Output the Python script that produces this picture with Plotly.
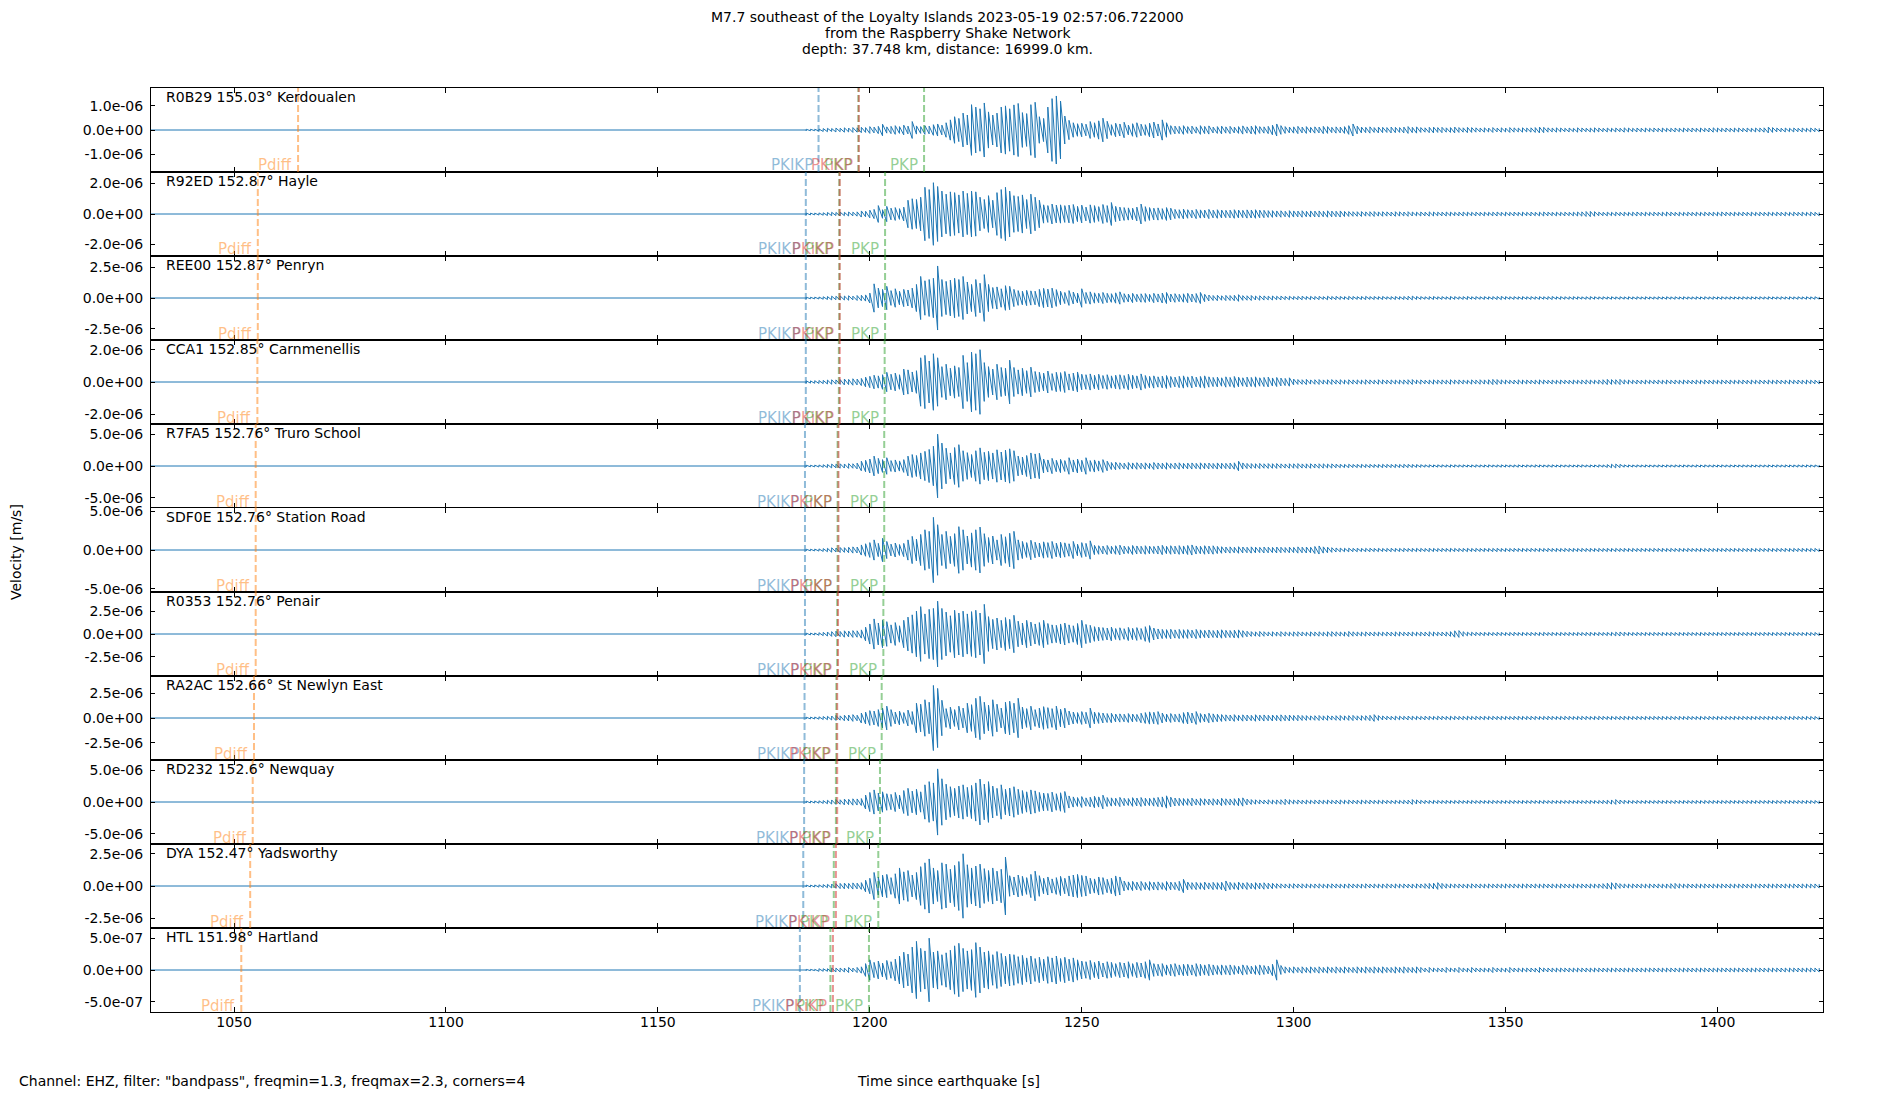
import plotly.graph_objects as go
from plotly.subplots import make_subplots

TITLE_LINES = [
    "M7.7 southeast of the Loyalty Islands 2023-05-19 02:57:06.722000",
    "from the Raspberry Shake Network",
    "depth: 37.748 km, distance: 16999.0 km.",
]
FOOTER = 'Channel: EHZ, filter: "bandpass", freqmin=1.3, freqmax=2.3, corners=4'
X_TITLE = "Time since earthquake [s]"
Y_TITLE = "Velocity [m/s]"

STATIONS = ["R0B29", "R92ED", "REE00", "CCA1", "R7FA5", "SDF0E", "R0353", "RA2AC", "RD232", "DYA", "HTL"]
DISTANCES = ["155.03", "152.87", "152.87", "152.85", "152.76", "152.76", "152.76", "152.66", "152.6", "152.47", "151.98"]
PLACES = ["Kerdoualen", "Hayle", "Penryn", "Carnmenellis", "Truro School", "Station Road",
          "Penair", "St Newlyn East", "Newquay", "Yadsworthy", "Hartland"]

# y limits (+/-) and tick step per station, m/s
Y_LIMITS = [1.74e-6, 2.75e-6, 3.41e-6, 2.6e-6, 6.6e-6, 5.4e-6, 4.6e-6, 4.26e-6, 6.6e-6, 3.26e-6, 6.6e-7]
Y_TICK_STEPS = [1e-6, 2e-6, 2.5e-6, 2e-6, 5e-6, 5e-6, 2.5e-6, 2.5e-6, 5e-6, 2.5e-6, 5e-7]

X_TICKS = [1050, 1100, 1150, 1200, 1250, 1300, 1350, 1400]
TRACE_START = 1030.4
TRACE_END = 1424.9

# predicted arrivals [s]
PHASE_NAMES = ["Pdiff", "PKIKP", "PKP", "PKP", "PKiKP"]
PDIFF = [1065.1, 1055.6, 1055.6, 1055.5, 1055.1, 1055.1, 1055.1, 1054.7, 1054.4, 1053.8, 1051.7]
PKIKP = [1187.9, 1184.9, 1184.9, 1184.9, 1184.7, 1184.7, 1184.7, 1184.6, 1184.5, 1184.3, 1183.5]
PKP_1 = [1197.3, 1192.8, 1192.8, 1192.7, 1192.4, 1192.4, 1192.3, 1192.1, 1192.0, 1191.5, 1190.7]
PKP_2 = [1212.8, 1203.6, 1203.6, 1203.5, 1203.4, 1203.4, 1203.2, 1202.8, 1202.4, 1202.0, 1199.8]
PKIKP_I = [1197.4, 1192.9, 1192.9, 1192.9, 1192.6, 1192.6, 1192.5, 1192.3, 1192.3, 1192.0, 1191.3]
PHASE_COLORS = ["rgba(255,127,14,0.5)", "rgba(31,119,180,0.5)", "rgba(44,160,44,0.5)",
                "rgba(44,160,44,0.5)", "rgba(214,39,40,0.5)"]

# peak amplitude per 1 s window, starting at ENV_START, in units of AMP_UNIT m/s
ENV_START = 1185
AMP_UNIT = 1e-8

AMP_R0B29 = [
    3, 3, 3, 4, 6, 7, 6, 8, 7, 9,
    8, 10, 9, 11, 10, 14, 12, 15, 24, 13,
    15, 18, 14, 20, 16, 35, 17, 14, 18, 16,
    22, 25, 20, 30, 42, 55, 48, 70, 62, 105,
    95, 88, 112, 75, 62, 70, 95, 100, 88, 104,
    110, 72, 68, 105, 115, 55, 48, 95, 130, 141,
    120, 58, 40, 30, 26, 28, 24, 35, 30, 38,
    49, 36, 22, 28, 25, 32, 20, 26, 30, 24,
    22, 28, 33, 25, 42, 30, 18, 16, 15, 18,
    14, 16, 13, 18, 15, 17, 12, 14, 16, 13,
    15, 12, 14, 17, 13, 16, 18, 14, 13, 15,
    20, 25, 18, 14, 12, 13, 15, 12, 14, 11,
    13, 12, 15, 14, 11, 13, 12, 14, 18, 25,
    16, 12, 11, 13, 10, 12, 11, 10, 12, 11,
    10, 12, 14, 11, 13, 10, 9, 11, 12, 10,
    11, 9, 10, 12, 10, 9, 11, 10, 9, 8,
    9, 8, 10, 8, 9, 8, 10, 9, 8, 9,
    8, 9, 10, 12, 11, 9, 8, 9, 8, 7,
    8, 7, 9, 8, 7, 8, 9, 8, 7, 8,
    7, 8, 7, 9, 8, 7, 8, 7, 8, 7,
    8, 7, 8, 7, 7, 8, 7, 8, 7, 8,
    7, 8, 7, 8, 9, 8, 7, 8, 7, 8,
    8, 7, 8, 7, 8, 8, 9, 12, 10, 8,
    7, 8, 7, 8, 7, 8, 7, 8, 7, 7,
]
AMP_R92ED = [
    6, 6, 6, 7, 8, 10, 11, 10, 12, 11,
    13, 12, 14, 20, 18, 25, 30, 55, 28, 50,
    38, 42, 35, 45, 90, 100, 95, 110, 175, 160,
    205, 180, 150, 130, 145, 140, 125, 150, 135, 150,
    145, 110, 95, 120, 90, 140, 160, 175, 150, 120,
    115, 125, 95, 130, 110, 90, 60, 55, 65, 58,
    60, 55, 58, 62, 50, 58, 45, 60, 55, 48,
    62, 55, 75, 50, 45, 42, 40, 38, 45, 65,
    48, 42, 38, 40, 35, 42, 38, 30, 28, 32,
    28, 25, 30, 27, 26, 30, 25, 28, 26, 24,
    25, 28, 26, 24, 27, 26, 28, 25, 24, 22,
    22, 20, 21, 18, 22, 20, 19, 21, 18, 20,
    19, 20, 18, 21, 19, 18, 20, 17, 16, 15,
    15, 16, 14, 15, 16, 14, 15, 14, 13, 15,
    14, 13, 15, 13, 12, 13, 12, 14, 13, 12,
    12, 13, 12, 11, 12, 13, 12, 11, 12, 11,
    12, 11, 12, 13, 11, 12, 11, 12, 11, 12,
    11, 12, 11, 12, 13, 12, 11, 12, 11, 12,
    11, 12, 13, 14, 16, 17, 15, 12, 11, 12,
    11, 12, 11, 12, 11, 12, 13, 11, 12, 11,
    12, 11, 12, 13, 12, 11, 12, 11, 12, 11,
    12, 11, 12, 11, 12, 12, 13, 12, 11, 12,
    11, 12, 11, 12, 11, 12, 11, 12, 11, 12,
    11, 12, 11, 12, 11, 12, 11, 12, 11, 11,
]
AMP_REE00 = [
    6, 6, 7, 8, 10, 12, 15, 14, 17, 16,
    18, 15, 20, 22, 25, 40, 115, 80, 70, 95,
    60, 75, 55, 70, 65, 80, 110, 175, 140, 150,
    160, 260, 150, 135, 145, 160, 150, 175, 130, 110,
    150, 120, 190, 110, 85, 90, 75, 100, 95, 70,
    60, 55, 62, 58, 55, 70, 78, 72, 80, 68,
    55, 45, 60, 48, 40, 75, 45, 50, 42, 38,
    45, 38, 35, 42, 50, 35, 32, 38, 30, 34,
    36, 30, 38, 33, 40, 45, 32, 35, 30, 34,
    38, 32, 36, 45, 30, 24, 20, 22, 18, 21,
    20, 22, 27, 19, 18, 20, 16, 18, 17, 15,
    16, 14, 15, 13, 14, 12, 13, 14, 12, 13,
    12, 13, 11, 14, 12, 13, 12, 11, 13, 12,
    11, 12, 13, 11, 12, 11, 12, 10, 11, 12,
    11, 12, 14, 15, 12, 11, 10, 11, 12, 10,
    11, 10, 12, 11, 10, 11, 12, 10, 11, 10,
    11, 10, 11, 12, 13, 11, 10, 11, 10, 11,
    10, 11, 10, 11, 10, 11, 12, 10, 11, 10,
    10, 11, 10, 9, 10, 11, 10, 9, 10, 9,
    10, 9, 10, 9, 10, 9, 10, 9, 10, 9,
    9, 10, 9, 10, 9, 10, 9, 10, 9, 9,
    10, 9, 10, 9, 10, 9, 10, 9, 10, 9,
    9, 10, 9, 10, 9, 10, 9, 10, 9, 9,
    10, 9, 10, 9, 10, 9, 10, 9, 10, 9,
]
AMP_CCA1 = [
    7, 7, 8, 9, 10, 12, 14, 13, 15, 18,
    16, 20, 18, 22, 30, 35, 42, 38, 45, 60,
    48, 55, 45, 80, 75, 62, 70, 150, 165, 130,
    175, 150, 95, 110, 85, 100, 90, 165, 120, 185,
    175, 200, 120, 95, 80, 110, 90, 85, 135, 90,
    75, 85, 70, 92, 65, 60, 55, 68, 52, 60,
    58, 65, 50, 55, 62, 48, 45, 50, 42, 48,
    40, 45, 38, 42, 45, 40, 48, 42, 38, 50,
    40, 35, 38, 32, 36, 40, 34, 30, 35, 38,
    32, 36, 30, 34, 38, 32, 28, 30, 26, 32,
    28, 34, 30, 26, 30, 28, 32, 26, 28, 30,
    25, 28, 24, 22, 26, 18, 15, 14, 16, 13,
    14, 15, 13, 14, 15, 13, 14, 12, 14, 13,
    13, 12, 14, 13, 12, 14, 13, 12, 13, 12,
    12, 13, 14, 15, 12, 13, 11, 12, 13, 12,
    13, 12, 14, 12, 13, 12, 11, 13, 12, 14,
    13, 14, 16, 15, 13, 12, 11, 12, 13, 12,
    12, 11, 12, 13, 12, 11, 12, 11, 12, 11,
    11, 12, 11, 12, 13, 12, 11, 12, 14, 16,
    15, 14, 16, 13, 12, 11, 12, 11, 12, 11,
    11, 12, 11, 12, 11, 12, 11, 12, 11, 11,
    12, 11, 12, 11, 12, 11, 12, 11, 12, 11,
    11, 12, 11, 12, 11, 12, 11, 12, 11, 12,
    11, 11, 12, 11, 12, 11, 12, 11, 11, 11,
]
AMP_R7FA5 = [
    12, 12, 14, 16, 20, 25, 30, 28, 35, 32,
    38, 35, 45, 75, 90, 110, 155, 120, 100, 130,
    85, 95, 80, 100, 155, 180, 165, 205, 230, 260,
    310, 500, 360, 280, 205, 290, 335, 240, 210, 180,
    240, 285, 215, 230, 205, 255, 220, 250, 270, 240,
    155, 140, 165, 205, 190, 200, 110, 95, 120, 90,
    105, 85, 130, 95, 110, 90, 130, 85, 95, 80,
    100, 75, 55, 60, 50, 45, 55, 48, 52, 45,
    50, 42, 55, 48, 45, 52, 40, 46, 50, 42,
    45, 48, 42, 50, 44, 46, 40, 48, 44, 42,
    46, 50, 75, 48, 40, 38, 36, 40, 35, 38,
    36, 38, 34, 32, 36, 35, 38, 33, 34, 36,
    32, 35, 34, 30, 33, 28, 26, 25, 27, 24,
    25, 26, 24, 25, 23, 24, 26, 25, 24, 25,
    24, 26, 25, 23, 22, 20, 18, 19, 17, 18,
    18, 17, 19, 18, 17, 18, 16, 17, 18, 17,
    17, 18, 16, 17, 18, 17, 16, 17, 18, 16,
    17, 16, 18, 17, 16, 17, 18, 16, 17, 16,
    17, 16, 17, 18, 16, 17, 16, 18, 17, 22,
    28, 30, 25, 18, 17, 16, 17, 16, 17, 16,
    16, 17, 16, 17, 16, 17, 16, 17, 16, 16,
    17, 16, 17, 16, 17, 16, 17, 16, 17, 16,
    16, 17, 16, 17, 16, 17, 16, 17, 16, 17,
    16, 17, 16, 16, 17, 16, 17, 16, 16, 16,
]
AMP_SDF0E = [
    10, 10, 12, 14, 18, 22, 28, 25, 32, 30,
    35, 40, 38, 65, 80, 95, 130, 85, 150, 110,
    75, 90, 70, 85, 130, 175, 140, 200, 260, 240,
    420, 325, 200, 240, 175, 210, 300, 260, 180, 220,
    260, 295, 210, 160, 180, 130, 200, 170, 215, 240,
    130, 110, 95, 125, 100, 90, 105, 95, 110, 88,
    100, 92, 80, 110, 75, 95, 85, 118, 60, 55,
    50, 58, 48, 55, 62, 50, 45, 58, 52, 48,
    55, 50, 46, 52, 60, 48, 55, 50, 56, 52,
    58, 65, 52, 48, 55, 50, 54, 46, 42, 38,
    40, 36, 42, 38, 35, 40, 37, 34, 38, 36,
    34, 38, 35, 32, 36, 34, 40, 36, 38, 35,
    45, 52, 40, 36, 30, 26, 24, 22, 23, 21,
    22, 20, 21, 22, 20, 21, 19, 20, 21, 20,
    20, 21, 19, 20, 21, 20, 19, 21, 20, 19,
    20, 19, 21, 20, 19, 20, 21, 19, 20, 19,
    20, 19, 20, 21, 19, 20, 19, 20, 19, 20,
    19, 20, 19, 20, 19, 20, 19, 20, 19, 20,
    19, 20, 19, 20, 19, 20, 19, 20, 19, 20,
    19, 20, 19, 20, 19, 20, 19, 20, 19, 19,
    20, 19, 20, 19, 20, 19, 20, 19, 20, 19,
    19, 20, 19, 20, 19, 20, 19, 20, 19, 20,
    19, 20, 19, 20, 19, 20, 19, 20, 19, 20,
    19, 20, 19, 20, 19, 20, 19, 19, 20, 19,
]
AMP_R0353 = [
    9, 10, 11, 14, 18, 22, 26, 30, 28, 35,
    32, 37, 35, 45, 75, 110, 165, 120, 150, 135,
    100, 125, 90, 150, 185, 210, 250, 300, 220, 270,
    280, 360, 280, 240, 200, 260, 230, 250, 220, 245,
    260, 230, 325, 190, 160, 175, 150, 180, 160, 205,
    140, 120, 150, 130, 110, 125, 150, 115, 100, 95,
    110, 120, 100, 90, 115, 150, 105, 95, 80, 75,
    70, 65, 75, 60, 68, 58, 72, 62, 70, 60,
    80, 92, 65, 55, 50, 48, 52, 45, 50, 47,
    48, 42, 50, 45, 40, 44, 38, 42, 46, 40,
    38, 42, 45, 36, 30, 26, 24, 28, 25, 22,
    24, 22, 26, 23, 21, 24, 25, 22, 20, 23,
    22, 24, 21, 25, 26, 24, 22, 23, 28, 24,
    22, 21, 23, 20, 22, 21, 20, 22, 21, 23,
    22, 20, 21, 22, 20, 21, 22, 24, 22, 20,
    21, 23, 26, 35, 37, 25, 20, 19, 18, 17,
    18, 17, 16, 18, 17, 16, 17, 18, 16, 17,
    16, 17, 16, 17, 18, 16, 17, 16, 17, 16,
    17, 16, 17, 16, 17, 18, 16, 17, 16, 17,
    18, 20, 22, 19, 17, 16, 17, 16, 17, 16,
    17, 16, 17, 16, 17, 16, 17, 16, 17, 16,
    16, 17, 16, 17, 16, 17, 16, 17, 16, 16,
    17, 16, 17, 16, 17, 16, 17, 16, 16, 17,
    16, 17, 16, 17, 16, 16, 17, 16, 16, 16,
]
AMP_RA2AC = [
    8, 9, 10, 12, 15, 17, 20, 25, 22, 28,
    30, 34, 28, 50, 60, 75, 70, 85, 100, 120,
    85, 60, 70, 55, 80, 65, 150, 140, 185, 160,
    330, 300, 180, 95, 110, 85, 120, 100, 150, 135,
    200, 220, 160, 130, 185, 140, 100, 160, 170, 150,
    200, 110, 95, 120, 85, 100, 115, 105, 95, 120,
    90, 100, 70, 60, 55, 65, 58, 100, 60, 55,
    50, 45, 48, 40, 42, 38, 45, 40, 36, 48,
    55, 62, 58, 65, 50, 40, 45, 38, 42, 55,
    60, 50, 65, 45, 40, 48, 42, 38, 35, 32,
    30, 34, 28, 32, 30, 27, 33, 29, 31, 28,
    30, 27, 32, 28, 30, 26, 28, 25, 24, 22,
    23, 25, 22, 24, 21, 23, 25, 22, 24, 26,
    22, 24, 23, 27, 34, 25, 20, 18, 17, 19,
    18, 17, 19, 18, 17, 16, 18, 17, 16, 18,
    17, 16, 18, 17, 16, 17, 18, 16, 17, 16,
    17, 16, 17, 16, 17, 16, 15, 16, 17, 16,
    16, 17, 16, 15, 16, 17, 16, 15, 16, 17,
    16, 15, 16, 17, 16, 15, 16, 17, 16, 15,
    16, 15, 16, 17, 16, 15, 16, 15, 16, 15,
    16, 15, 16, 15, 16, 15, 16, 15, 16, 15,
    15, 16, 15, 16, 15, 16, 15, 16, 15, 16,
    15, 16, 15, 16, 15, 16, 15, 16, 15, 16,
    15, 16, 15, 16, 15, 15, 16, 15, 15, 15,
]
AMP_RD232 = [
    14, 15, 16, 18, 22, 27, 32, 38, 35, 45,
    42, 50, 48, 54, 110, 150, 190, 140, 160, 130,
    120, 150, 110, 180, 215, 170, 200, 160, 270, 320,
    300, 520, 365, 280, 240, 215, 250, 270, 230, 260,
    300, 360, 280, 320, 250, 215, 270, 200, 220, 240,
    200, 180, 160, 190, 175, 150, 140, 135, 155, 130,
    145, 165, 95, 80, 70, 85, 65, 75, 90, 80,
    107, 70, 65, 60, 72, 58, 55, 68, 62, 70,
    60, 58, 65, 72, 80, 97, 75, 62, 58, 55,
    52, 60, 48, 55, 50, 46, 52, 45, 58, 50,
    48, 52, 60, 65, 45, 38, 35, 32, 30, 34,
    30, 33, 36, 43, 35, 30, 32, 28, 30, 27,
    29, 31, 28, 30, 27, 29, 32, 28, 30, 27,
    28, 30, 27, 29, 26, 28, 27, 25, 24, 26,
    25, 27, 30, 38, 32, 26, 24, 23, 25, 24,
    23, 24, 22, 23, 24, 22, 23, 24, 22, 23,
    22, 23, 24, 22, 23, 22, 24, 23, 22, 23,
    22, 23, 22, 23, 24, 22, 23, 22, 23, 22,
    23, 22, 23, 22, 23, 24, 22, 23, 25, 28,
    32, 38, 30, 26, 23, 22, 23, 22, 23, 22,
    22, 23, 22, 23, 22, 23, 22, 23, 22, 22,
    23, 22, 23, 22, 23, 22, 23, 22, 23, 22,
    22, 23, 22, 23, 22, 23, 22, 23, 22, 23,
    22, 23, 22, 22, 23, 22, 23, 22, 22, 22,
]
AMP_DYA = [
    7, 7, 8, 9, 11, 13, 15, 18, 20, 22,
    20, 24, 22, 26, 45, 60, 105, 70, 85, 90,
    65, 95, 140, 110, 120, 85, 105, 150, 180, 210,
    140, 120, 180, 170, 130, 160, 190, 250, 165, 140,
    155, 170, 135, 120, 140, 115, 130, 225, 80, 70,
    85, 75, 65, 90, 115, 80, 60, 70, 55, 65,
    75, 60, 78, 85, 90, 82, 78, 60, 55, 70,
    65, 52, 60, 78, 70, 38, 32, 36, 30, 35,
    28, 34, 30, 32, 26, 35, 30, 28, 36, 52,
    30, 26, 28, 25, 30, 24, 28, 26, 29, 39,
    28, 25, 30, 24, 27, 22, 26, 23, 25, 22,
    21, 18, 17, 16, 17, 18, 16, 17, 16, 15,
    16, 17, 15, 16, 17, 16, 15, 16, 17, 16,
    15, 16, 17, 15, 16, 15, 16, 17, 15, 16,
    15, 16, 15, 16, 17, 16, 18, 20, 22, 26,
    20, 17, 16, 15, 16, 15, 16, 17, 15, 16,
    15, 16, 15, 16, 15, 16, 15, 16, 15, 16,
    16, 15, 16, 15, 16, 15, 16, 15, 16, 15,
    15, 16, 15, 16, 15, 16, 15, 16, 18, 22,
    26, 24, 18, 16, 15, 16, 15, 16, 15, 16,
    15, 16, 15, 16, 18, 20, 17, 15, 16, 15,
    16, 15, 16, 15, 16, 15, 16, 15, 16, 15,
    15, 16, 15, 16, 15, 16, 15, 16, 15, 16,
    15, 16, 15, 16, 15, 16, 15, 15, 16, 15,
]
AMP_HTL = [
    1, 1, 1, 2, 2, 2, 3, 3, 3, 3,
    4, 3, 4, 5, 10, 16, 12, 14, 11, 15,
    13, 17, 22, 28, 25, 36, 45, 34, 30, 50,
    28, 30, 24, 27, 31, 38, 42, 34, 30, 32,
    43, 36, 28, 30, 24, 29, 26, 22, 25, 24,
    21, 23, 19, 22, 18, 20, 17, 21, 19, 22,
    18, 20, 17, 19, 16, 14, 13, 15, 12, 14,
    11, 13, 12, 10, 12, 11, 13, 10, 12, 11,
    13, 16, 10, 9, 10, 8, 9, 10, 8, 9,
    9, 8, 10, 9, 8, 9, 8, 7, 8, 7,
    8, 7, 6, 8, 7, 6, 7, 8, 7, 6,
    9, 16, 7, 5, 4, 5, 4, 5, 4, 5,
    4, 5, 4, 5, 4, 5, 4, 5, 4, 4,
    5, 4, 5, 4, 5, 4, 5, 4, 4, 5,
    4, 5, 4, 4, 5, 4, 3, 4, 3, 3,
    3, 4, 3, 3, 4, 3, 3, 4, 3, 3,
    3, 3, 4, 3, 3, 3, 4, 3, 3, 3,
    3, 3, 3, 4, 3, 3, 3, 3, 3, 3,
    3, 3, 3, 3, 3, 3, 3, 3, 3, 3,
    3, 3, 3, 3, 3, 3, 3, 3, 3, 3,
    3, 3, 3, 3, 3, 3, 3, 3, 3, 3,
    3, 3, 3, 3, 3, 3, 3, 3, 3, 3,
    3, 3, 3, 3, 3, 3, 3, 3, 3, 3,
    3, 3, 3, 3, 3, 3, 3, 3, 3, 3,
]
AMPLITUDES = [AMP_R0B29, AMP_R92ED, AMP_REE00, AMP_CCA1, AMP_R7FA5, AMP_SDF0E,
              AMP_R0353, AMP_RA2AC, AMP_RD232, AMP_DYA, AMP_HTL]

# reference geometry in pixels; the page adds its own offset, so the
# figure is drawn smaller and shifted up/left by that amount
PAD_X, PAD_Y = 10.5, 8
W, H = 1892, 1092
L, R, T, B = 153, 1826, 88, 1012
FONT = "DejaVu Sans"


def paper_x(px):
    return (px - L) / (R - L)


def paper_y(py):
    return (B - py) / (B - T)


def trace_xy(amps):
    """Flat pre-event part, then a min/max stroke for every 1 s window."""
    xs = [TRACE_START, ENV_START]
    ys = [0.0, 0.0]
    for k, a in enumerate(amps):
        t = ENV_START + k
        xs += [t, t]
        ys += [-a * AMP_UNIT, a * AMP_UNIT]
    return xs, ys


n_rows = len(STATIONS)
fig = make_subplots(rows=n_rows, cols=1, shared_xaxes=True, vertical_spacing=0)

phase_times = [PDIFF, PKIKP, PKP_1, PKP_2, PKIKP_I]

for i in range(n_rows):
    row = i + 1
    ax = "" if i == 0 else str(row)
    xs, ys = trace_xy(AMPLITUDES[i])
    fig.add_trace(
        go.Scatter(x=xs, y=ys, mode="lines", line={"color": "#1f77b4", "width": 1},
                   showlegend=False, hoverinfo="skip"),
        row=row, col=1,
    )

    lim = Y_LIMITS[i]
    step = Y_TICK_STEPS[i]
    vals = [step, 0.0, -step]
    fig.update_yaxes(
        range=[-lim, lim], tickvals=vals, ticktext=["{:.1e}".format(v) for v in vals],
        row=row, col=1,
    )

    for name, times, color in zip(PHASE_NAMES, phase_times, PHASE_COLORS):
        t = times[i]
        fig.add_shape(type="line", x0=t, x1=t, y0=0, y1=1, xref="x" + ax, yref="y" + ax + " domain",
                      line={"color": color, "width": 2, "dash": "7px,3px"})
        fig.add_annotation(x=t, y=0, xref="x" + ax, yref="y" + ax + " domain", text=name,
                           showarrow=False, xanchor="right", yanchor="bottom", xshift=-4, yshift=-4.5,
                           font={"family": FONT, "size": 15, "color": color})

    fig.add_annotation(x=0, y=1, xref="x" + ax + " domain", yref="y" + ax + " domain",
                       text=f"{STATIONS[i]} {DISTANCES[i]}° {PLACES[i]}", showarrow=False,
                       xanchor="left", yanchor="top", xshift=13, yshift=1,
                       font={"family": FONT, "size": 14, "color": "black"})

fig.update_xaxes(
    range=[TRACE_START, TRACE_END], tickvals=X_TICKS, ticks="inside", ticklen=5, mirror="ticks",
    showline=True, linecolor="black", linewidth=1, showgrid=False, zeroline=False,
    tickcolor="black", ticklabelstandoff=-3,
    tickfont={"family": FONT, "size": 14, "color": "black"},
)
fig.update_yaxes(
    ticks="inside", ticklen=4, mirror="ticks", showline=True, linecolor="black", linewidth=1,
    showgrid=False, zeroline=False, tickcolor="black", ticklabelstandoff=4,
    tickfont={"family": FONT, "size": 14, "color": "black"},
)

for k, line in enumerate(TITLE_LINES):
    fig.add_annotation(x=paper_x(950), y=paper_y(17 + 15.8 * k), xref="paper", yref="paper",
                       text=line, showarrow=False, xanchor="center", yanchor="middle",
                       font={"family": FONT, "size": 14, "color": "black"})

fig.add_annotation(x=paper_x(19), y=paper_y(1081), xref="paper", yref="paper",
                   text=FOOTER, showarrow=False, xanchor="left", yanchor="middle",
                   font={"family": FONT, "size": 14, "color": "black"})
fig.add_annotation(x=paper_x(951), y=paper_y(1081), xref="paper", yref="paper",
                   text=X_TITLE, showarrow=False, xanchor="center", yanchor="middle",
                   font={"family": FONT, "size": 14, "color": "black"})
fig.add_annotation(x=paper_x(18), y=paper_y(552), xref="paper", yref="paper",
                   text=Y_TITLE, showarrow=False, textangle=-90, xanchor="center", yanchor="middle",
                   font={"family": FONT, "size": 14, "color": "black"})

fig.update_layout(
    width=W, height=H,
    margin={"l": L - PAD_X, "r": W - (R - PAD_X), "t": T - PAD_Y, "b": H - (B - PAD_Y)},
    paper_bgcolor="white", plot_bgcolor="white", showlegend=False,
    font={"family": FONT, "size": 14, "color": "black"},
)

fig.write_html("out.html")
